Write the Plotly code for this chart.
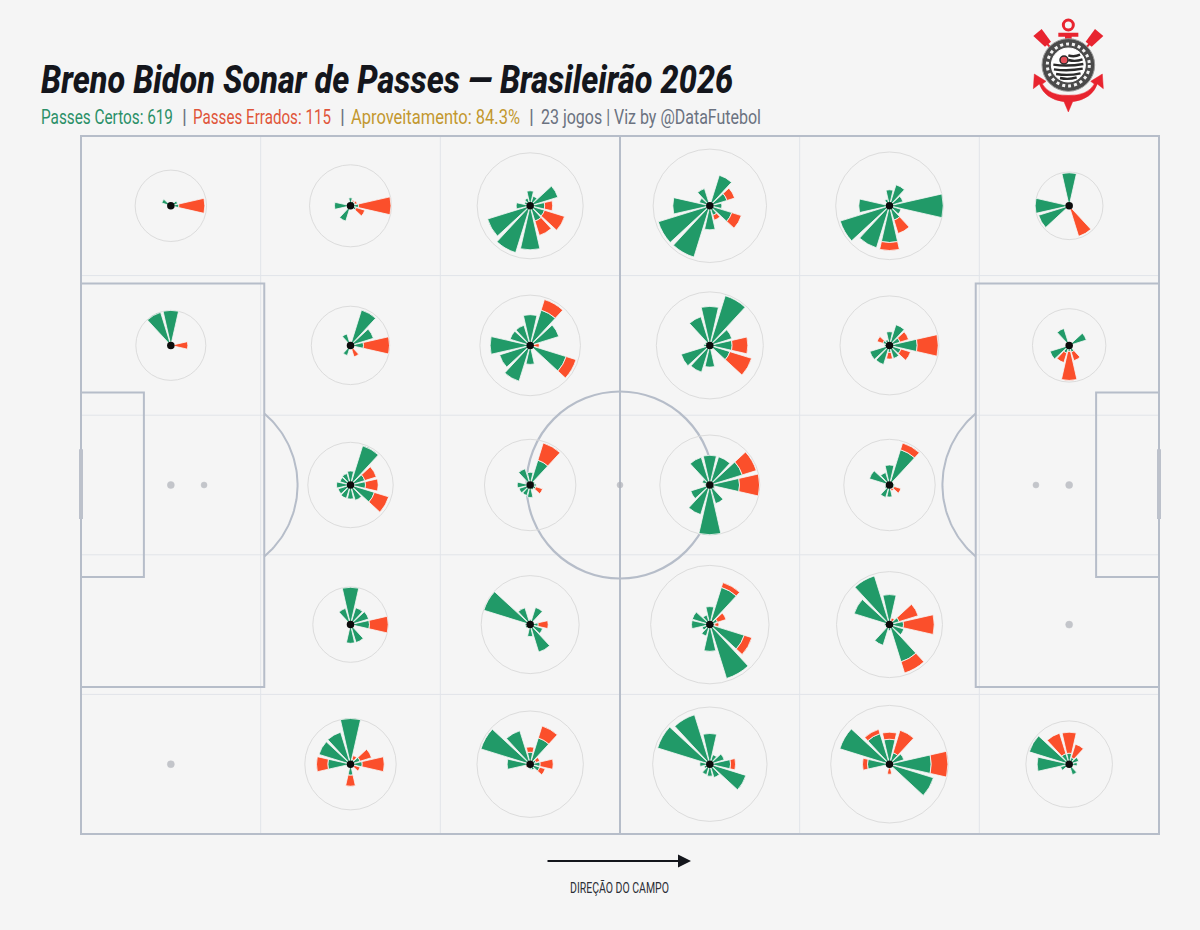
import json

import numpy as np
import plotly.graph_objects as go

# 12 direcoes, 0 = direita, anti-horario
angulos = [0, 30, 60, 90, 120, 150, 180, 210, 240, 270, 300, 330]

# zonas do campo: (linha, coluna), linha 0 em cima
zonas = [(0, 0), (0, 1), (0, 2), (0, 3), (0, 4), (0, 5),
         (1, 0), (1, 1), (1, 2), (1, 3), (1, 4), (1, 5),
         (2, 1), (2, 2), (2, 3), (2, 4),
         (3, 1), (3, 2), (3, 3), (3, 4),
         (4, 1), (4, 2), (4, 3), (4, 4), (4, 5)]
zonas_vazias = [(2, 0), (2, 5), (3, 5), (4, 0)]

raio_zona = [35.7, 41, 53, 56.7, 53.8, 33.8,
             35, 39.2, 50.3, 53.5, 49.5, 36.7,
             42.7, 45.7, 50, 45.7,
             37.7, 49, 59.2, 53,
             45.7, 53.2, 57.2, 58.8, 43.3]

certos = [
    [8, 7, 0, 0, 0, 9.5, 0, 0, 0, 0, 0, 0],
    [8, 5, 5, 8, 3, 0, 16, 3, 16, 3, 3, 6],
    [14.5, 29, 10, 15, 8, 6, 14, 44.6, 49, 44, 16, 15],
    [12, 18, 32, 0, 18, 11, 37, 54, 53.7, 24, 10, 23],
    [53.7, 14, 22, 16, 7, 0, 30.7, 51.6, 44, 36.7, 15, 12],
    [0, 0, 0, 33, 0, 0, 34, 32, 0, 0, 3, 0],
    [3, 0, 0, 35, 34.6, 0, 0, 0, 0, 0, 0, 0],
    [13, 24, 37, 0, 12, 0, 0, 0, 10.6, 0, 4, 4],
    [3, 30, 37, 30.7, 21, 21, 40, 32, 37.5, 19, 4, 37.7],
    [22.3, 23, 52, 39, 30, 5, 6, 30, 28, 21.7, 4, 21],
    [27.7, 11, 21.7, 13.7, 6, 7, 5, 20.6, 20, 7, 13.7, 12],
    [0, 18, 0, 0, 17.7, 0, 0, 20, 8, 6, 7, 0],
    [15, 15, 41, 14, 12, 11, 14, 13, 14, 14, 16, 25],
    [6, 5, 26, 12.7, 17, 4, 13, 11.6, 11, 12.5, 5, 6],
    [29.7, 34, 29.6, 29.7, 29, 8, 5, 20, 31, 49.7, 19.5, 5],
    [5, 3, 37, 20, 13, 21, 4, 5, 13, 12, 4, 5],
    [19, 19, 17.7, 37.3, 17, 0, 0, 0, 0, 18.7, 18.8, 0],
    [8, 4, 18, 5, 17.6, 48.5, 5, 5, 4, 12, 28.8, 13],
    [5, 8, 39, 18, 10, 18.4, 18.3, 8, 12, 26.7, 56.4, 36],
    [14, 10, 4, 30, 51, 37, 5, 4, 21.7, 6, 39, 15],
    [11.7, 10, 5, 45.7, 33.5, 33, 22.7, 0, 0, 11, 3, 4],
    [10, 6, 27.5, 12, 35, 51.5, 23, 3, 3, 5, 6, 10],
    [20.7, 15, 10, 30.7, 51.7, 54.7, 10, 6, 11, 12, 14, 37.7],
    [41.7, 15, 12, 25, 32, 52, 22, 0, 0, 4, 3, 46],
    [8, 10, 7, 11, 11, 41.7, 32, 9, 3, 0, 11, 0],
]

errados = [
    [26, 0, 0, 0, 0, 0, 0, 0, 0, 0, 0, 0],
    [32.5, 2, 1, 0, 0, 0, 0, 0, 0, 0, 0, 9],
    [8, 0, 0, 0, 0, 0, 0, 0, 0, 0, 15, 21],
    [0, 8, 0, 0, 0, 0, 0, 0, 0, 0, 5, 10],
    [0, 0, 0, 0, 0, 0, 0, 0, 0, 8, 14, 0],
    [0, 0, 0, 0, 0, 0, 0, 0, 0, 0, 29, 0],
    [14, 0, 0, 0, 0, 0, 0, 0, 0, 0, 0, 0],
    [26, 0, 0, 0, 0, 0, 0, 0, 0, 0, 8, 0],
    [6, 0, 11, 0, 0, 0, 0, 0, 0, 0, 0, 10.3],
    [15.7, 0, 0, 0, 0, 0, 0, 0, 0, 0, 0, 22.7],
    [21, 9, 0, 0, 0, 6, 0, 0, 0, 6.7, 0, 10],
    [0, 0, 0, 0, 0, 0, 0, 0, 10, 29, 9, 0],
    [12.7, 12, 0, 0, 0, 0, 0, 0, 0, 0, 0, 15],
    [0, 0, 18, 0, 0, 0, 0, 0, 0, 0, 0, 7],
    [20, 14.6, 0, 0, 0, 0, 0, 0, 0, 0, 0, 0],
    [0, 0, 7, 0, 0, 0, 0, 0, 0, 0, 2, 7],
    [18.7, 0, 0, 0, 0, 0, 0, 0, 0, 0, 0, 0],
    [10, 0, 0, 0, 0, 0, 0, 0, 0, 0, 0, 0],
    [4, 9, 5, 0, 0, 0, 0, 0, 0, 0, 0, 8],
    [30.7, 20, 3, 0, 0, 0, 0, 0, 0, 0, 11.7, 0],
    [22, 12, 4, 0, 0, 0, 11.3, 0, 0, 11, 0, 6],
    [13, 4, 12.5, 5.3, 0, 0, 0, 1.5, 0, 0, 0, 5.7],
    [5, 0, 0, 0, 0, 0, 0, 0, 0, 0, 0, 0],
    [16.7, 0, 23.5, 7, 4.5, 0, 5, 0, 0, 6, 0, 0],
    [0, 0, 14, 21, 21.5, 0, 0, 0, 0, 0, 0, 0],
]

VERDE = "#219a68"
VERMELHO = "#fb4f2b"
FUNDO = "#f5f5f5"
LINHA = "#b6bdc9"
GRADE = "#e1e4e9"
FONTE = "Roboto"

W, H = 1200, 930
# campo em pixels
X0, X1, Y0, Y1 = 81, 1159, 136, 834
sx = (X1 - X0) / 120
sy = (Y1 - Y0) / 80


def linha_seg(x0, y0, x1, y1, cor=LINHA, larg=2):
    return dict(type="line", xref="x", yref="y", x0=x0, y0=y0, x1=x1, y1=y1, layer="below",
                line=dict(color=cor, width=larg))


def caixa(x0, y0, x1, y1):
    return dict(type="rect", xref="x", yref="y", x0=x0, y0=y0, x1=x1, y1=y1, layer="below",
                line=dict(color=LINHA, width=2), fillcolor="rgba(0,0,0,0)")


fig = go.Figure()
shapes = []

# grade das zonas
for gx in [20, 40, 60, 80, 100]:
    shapes.append(linha_seg(gx, 0, gx, 80, GRADE, 1))
for gy in [16, 32, 48, 64]:
    shapes.append(linha_seg(0, gy, 120, gy, GRADE, 1))

# campo
shapes.append(caixa(0, 0, 120, 80))
shapes.append(linha_seg(60, 0, 60, 80))
shapes.append(caixa(0, 16.9, 20.4, 63.15))
shapes.append(caixa(120, 16.9, 99.6, 63.15))
shapes.append(caixa(0, 29.4, 7, 50.55))
shapes.append(caixa(120, 29.4, 113, 50.55))
shapes.append(linha_seg(0, 35.9, 0, 43.9, "#bcc1cb", 4))
shapes.append(linha_seg(120, 35.9, 120, 43.9, "#bcc1cb", 4))
rx, ry = 93.5 / sx, 93.5 / sy
shapes.append(dict(type="circle", xref="x", yref="y", x0=60 - rx, x1=60 + rx, y0=40 - ry, y1=40 + ry,
                   layer="below", line=dict(color=LINHA, width=2.2)))

# meias-luas
t_arco = np.radians(np.linspace(-49.7, 49.7, 60))
fig.add_trace(go.Scatter(x=13.7 + rx * np.cos(t_arco), y=40 + ry * np.sin(t_arco), mode="lines",
                         line=dict(color=LINHA, width=2), hoverinfo="skip", showlegend=False))
fig.add_trace(go.Scatter(x=106.3 - rx * np.cos(t_arco), y=40 + ry * np.sin(t_arco), mode="lines",
                         line=dict(color=LINHA, width=2), hoverinfo="skip", showlegend=False))

# marcas do campo + zonas sem passes
pontos_x = [13.7, 106.3, 60] + [10 + 20 * c for _, c in zonas_vazias]
pontos_y = [40, 40, 40] + [8 + 16 * r for r, _ in zonas_vazias]
tam_pontos = [6, 6, 6] + [7] * len(zonas_vazias)
fig.add_trace(go.Scatter(x=pontos_x, y=pontos_y, mode="markers",
                         marker=dict(size=tam_pontos, color="#aeb1b8", line=dict(width=0.5, color="#aeb1b8")),
                         hoverinfo="skip", showlegend=False))

# um sonar (subplot polar) por zona
layout_polar = {}
for i, (r, c) in enumerate(zonas):
    nome = "polar" if i == 0 else f"polar{i + 1}"
    cx = X0 + (10 + 20 * c) * sx
    cy = Y0 + (8 + 16 * r) * sy
    raio = raio_zona[i]
    ext = raio + 6
    layout_polar[nome] = dict(
        domain=dict(x=[(cx - ext) / W, (cx + ext) / W], y=[1 - (cy + ext) / H, 1 - (cy - ext) / H]),
        bgcolor="rgba(0,0,0,0)",
        barmode="stack",
        radialaxis=dict(range=[0, ext], tickvals=[raio], showticklabels=False, ticks="", showline=False,
                        gridcolor="#dcdcdc", gridwidth=1),
        angularaxis=dict(visible=False, showgrid=False, showline=False, rotation=0, direction="counterclockwise"),
    )
    fig.add_trace(go.Barpolar(theta=angulos, r=certos[i], width=25.5, subplot=nome,
                              marker=dict(color=VERDE, line=dict(color="#f7f7f7", width=0.8)),
                              hoverinfo="skip", showlegend=False))
    fig.add_trace(go.Barpolar(theta=angulos, r=errados[i], width=25.5, subplot=nome,
                              marker=dict(color=VERMELHO, line=dict(color="#f7f7f7", width=0.8)),
                              hoverinfo="skip", showlegend=False))
    fig.add_trace(go.Scatterpolar(theta=[0], r=[0], mode="markers", subplot=nome,
                                  marker=dict(size=7.5, color="#0c0c0c"), hoverinfo="skip", showlegend=False))


# escudo: desenhado na escala do recorte 360x330
def esc(**kw):
    base = dict(xref="x3", yref="y3", layer="above")
    base.update(kw)
    return base


RUBRO = "#e8242f"
escudo = []
# remos
for m in [1, -1]:
    px = lambda v: 205 + m * (v - 205)
    escudo.append(esc(type="path", fillcolor=RUBRO, line=dict(width=0),
                      path=f"M {px(100)} 78 L {px(125)} 57 L {px(153)} 95 L {px(135)} 110 Z"))
    escudo.append(esc(type="line", x0=px(140), y0=100, x1=px(185), y1=150, line=dict(color=RUBRO, width=2)))
# ancora: argola e haste
escudo.append(esc(type="circle", x0=190, x1=220, y0=30, y1=60, line=dict(color=RUBRO, width=3), fillcolor="rgba(0,0,0,0)"))
escudo.append(esc(type="path", fillcolor=RUBRO, line=dict(width=0),
                  path="M 175 68 L 235 68 L 235 80 L 215 80 L 215 95 L 195 95 L 195 80 L 175 80 Z"))
# bracos da ancora
escudo.append(esc(type="path", fillcolor=RUBRO, line=dict(color=RUBRO, width=0.5),
                  path="M 103 192 L 100 236 L 118 222 Q 135 268 192 275 L 205 306 L 218 275 "
                       "Q 275 268 292 222 L 310 236 L 307 192 L 272 214 L 283 222 "
                       "Q 262 258 205 256 Q 148 258 127 222 L 138 214 Z"))
# anel e miolo
escudo.append(esc(type="circle", x0=126, x1=284, y0=86, y1=244, line=dict(color="#9a9a9a", width=1), fillcolor="#4a4a4a"))
escudo.append(esc(type="circle", x0=142, x1=268, y0=102, y1=228, line=dict(color="#f2f2f2", width=3, dash="dot"), fillcolor="rgba(0,0,0,0)"))
escudo.append(esc(type="circle", x0=154, x1=256, y0=114, y1=216, line=dict(color="#ffffff", width=1), fillcolor="#ffffff"))
for yy in [136, 150, 164, 178, 192, 204]:
    meia = np.sqrt(max(0, 48 ** 2 - (yy - 165) ** 2)) - 3
    ini = 205 - meia if yy > 162 else 205
    escudo.append(esc(type="path", line=dict(color="#2a2a2a", width=2.4),
                      path=f"M {ini:.1f} {yy} Q {(ini + 205 + meia) / 2:.1f} {yy + 6} {205 + meia:.1f} {yy - 2}"))
escudo.append(esc(type="circle", x0=180, x1=204, y0=138, y1=162, line=dict(color="#2a2a2a", width=1.5), fillcolor="#e6505a"))
shapes.extend(escudo)

titulo = "Breno Bidon Sonar de Passes — Brasileirão 2026"
sub_certos = "Passes Certos: 619"
sub_errados = "Passes Errados: 115"
sub_aprov = "Aproveitamento: 84.3%"
sub_jogos = "23 jogos | Viz by @DataFutebol"
direcao = "DIREÇÃO DO CAMPO"

# larguras dos textos na referencia (fonte condensada nao instalada)
larguras = {titulo: 692, sub_certos: 132, sub_errados: 138, sub_aprov: 169, sub_jogos: 220, direcao: 99}


def texto(x, y, s, cor, tam, peso=400, estilo="normal"):
    return dict(xref="paper", yref="paper", x=x / W, y=1 - y / H, text=s, showarrow=False, align="left",
                xanchor="left", yanchor="middle", borderpad=0, borderwidth=0,
                font=dict(family=FONTE, color=cor, size=tam, weight=peso, style=estilo))


anots = [
    texto(41, 80, titulo, "#14161c", 39, peso=800, estilo="italic"),
    texto(41, 117, sub_certos, "#2b9068", 21),
    texto(182, 117, "|", "#6b7280", 20),
    texto(193, 117, sub_errados, "#e0553a", 21),
    texto(340, 117, "|", "#6b7280", 20),
    texto(351, 117, sub_aprov, "#c3982f", 21),
    texto(529, 117, "|", "#6b7280", 20),
    texto(541, 117, sub_jogos, "#6b7280", 21),
    texto(570, 887, direcao, "#2b2e36", 14),
    dict(xref="paper", yref="paper", axref="pixel", ayref="pixel", x=691 / W, y=1 - 861 / H, ax=-145, ay=0, text="",
         showarrow=True, arrowhead=2, arrowsize=1.3, arrowwidth=2, arrowcolor="#14161c"),
]

eixo_off = dict(visible=False, showgrid=False, zeroline=False)
fig.update_layout(
    width=W, height=H,
    margin=dict(l=0, r=0, t=0, b=0),
    paper_bgcolor=FUNDO, plot_bgcolor=FUNDO,
    showlegend=False,
    # folga de 1 unidade para nao cortar as linhas da borda
    xaxis=dict(domain=[(X0 - sx) / W, (X1 + sx) / W], range=[-1, 121], **eixo_off),
    yaxis=dict(domain=[1 - (Y1 + sy) / H, 1 - (Y0 - sy) / H], range=[81, -1], **eixo_off),
    xaxis3=dict(domain=[1000 / W, 1120 / W], range=[0, 360], anchor="y3", **eixo_off),
    yaxis3=dict(domain=[1 - 120 / H, 1 - 10 / H], range=[330, 0], anchor="x3", **eixo_off),
    shapes=shapes,
    annotations=anots,
    **layout_polar,
)

# aperta na horizontal, a partir da esquerda de cada texto
js = """
document.body.style.margin='0';
var larguras = %s;
var gd = document.getElementById('{plot_id}');
function aperta() {
  document.querySelectorAll('.annotation-text').forEach(function (t) {
    var w = larguras[t.textContent];
    if (!w) return;
    var x = parseFloat(t.getAttribute('x')) || 0;
    var k = w / t.getComputedTextLength();
    t.setAttribute('transform', 'translate(' + x + ' 0) scale(' + k + ' 1) translate(' + (-x) + ' 0)');
  });
}
aperta();
gd.on('plotly_afterplot', aperta);
setTimeout(aperta, 50);
""" % json.dumps(larguras, ensure_ascii=False)

fig.write_html("out.html", post_script=js, config={"displayModeBar": False})
